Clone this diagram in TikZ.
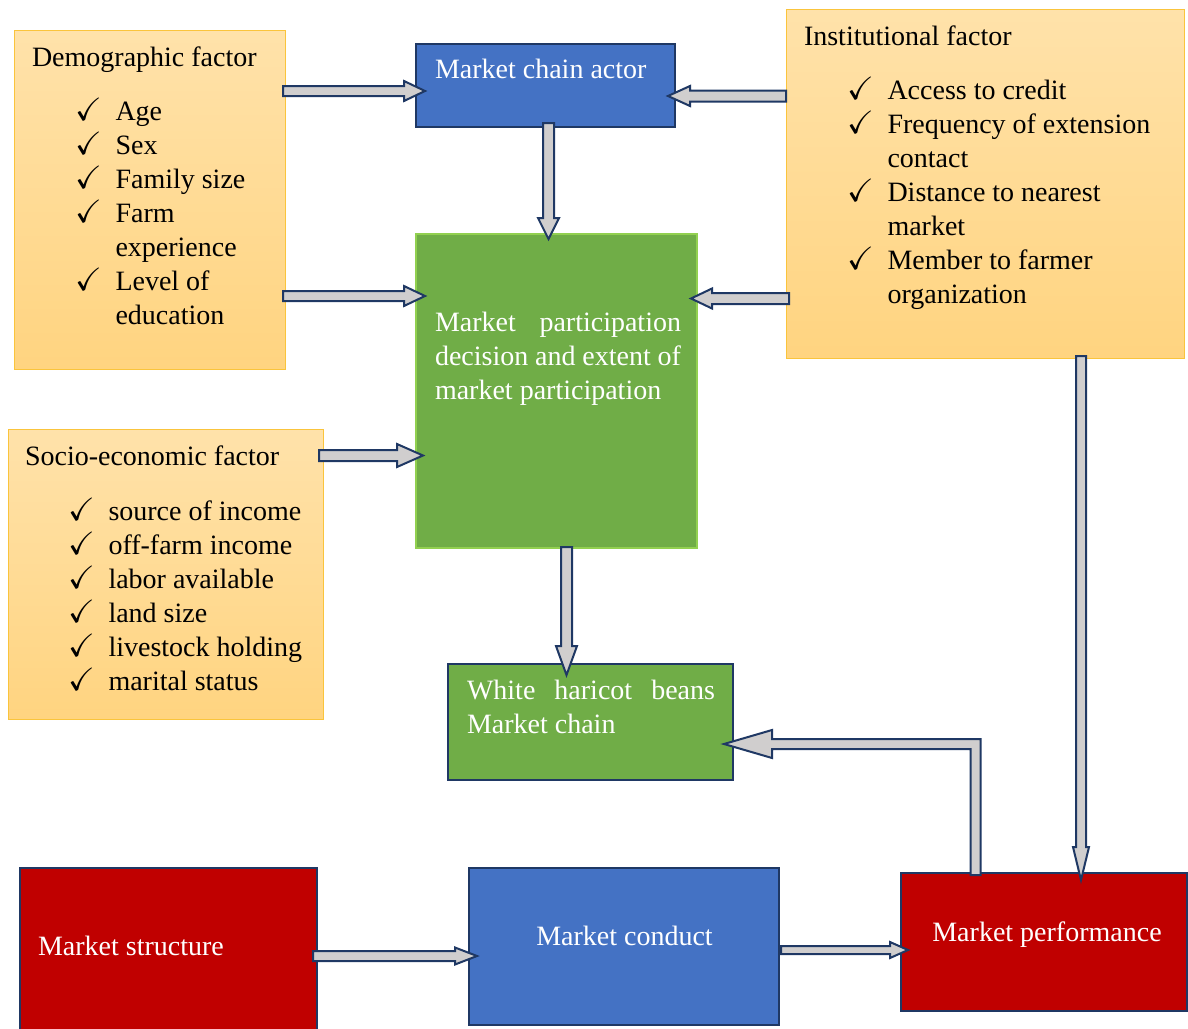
\documentclass[tikz,border=0pt]{standalone}
\usepackage{amssymb}
\usepackage{fontspec}
\setmainfont{Liberation Serif}
\usetikzlibrary{calc}
\definecolor{navy}{HTML}{1F3864}
\definecolor{agray}{HTML}{D0CECE}
\definecolor{mblue}{HTML}{4472C4}
\definecolor{mgreen}{HTML}{70AD47}
\definecolor{lgreen}{HTML}{92D050}
\definecolor{mred}{HTML}{C00000}
\definecolor{otop}{RGB}{255,226,170}
\definecolor{obot}{RGB}{255,212,128}
\definecolor{oline}{RGB}{250,196,60}
\newcommand\barrow[5]{%
  \coordinate (ba) at (#1); \coordinate (bb) at (#2);
  \coordinate (bh) at ($(bb)!#4pt!(ba)$);
  \draw[blockarr] ($(ba)!#3pt!90:(bb)$) -- ($(bh)!#3pt!-90:(ba)$) -- ($(bh)!#5pt!-90:(ba)$) -- (bb) -- ($(bh)!#5pt!90:(ba)$) -- ($(bh)!#3pt!90:(ba)$) -- ($(ba)!#3pt!-90:(bb)$) -- cycle;}
\newcommand\ck{\makebox[40.5pt][l]{\scalebox{1.15}{$\checkmark$}}}
\newcommand\ind{\hspace*{40.5pt}}
\tikzset{
  every node/.style={inner sep=0pt, outer sep=0pt},
  obox/.style={draw=oline, line width=1pt, top color=otop, bottom color=obot, anchor=north west},
  bbox/.style={draw=navy, line width=2pt, fill=mblue, anchor=north west},
  gbox/.style={draw=navy, line width=2pt, fill=mgreen, anchor=north west},
  rbox/.style={draw=navy, line width=2pt, fill=mred, anchor=north west},
  txt/.style={font=\fontsize{28}{34}\selectfont, anchor=base west},
  ltxt/.style={font=\fontsize{28}{34}\selectfont, anchor=north west, align=left},
  wtxt/.style={txt, text=white},
  blockarr/.style={draw=navy, fill=agray, line width=2pt, line join=miter},
}
\begin{document}
\begin{tikzpicture}[x=1pt,y=-1pt]
\useasboundingbox (0,0) rectangle (1188,1028);
% boxes
\node[obox, minimum width=271pt, minimum height=339pt] (dem) at (14,30) {};
\node[obox, minimum width=398pt, minimum height=349pt] (inst) at (786,9) {};
\node[obox, minimum width=315pt, minimum height=290pt] (soc) at (8,429) {};
\node[bbox, minimum width=259pt, minimum height=83pt] (act) at (416,44) {};
\node[gbox, draw=lgreen, minimum width=281pt, minimum height=314pt] (par) at (416,234) {};
\node[gbox, minimum width=285pt, minimum height=116pt] (wh) at (448,664) {};
\node[rbox, minimum width=297pt, minimum height=165pt] (str) at (20,868) {};
\node[bbox, minimum width=310pt, minimum height=157pt] (con) at (469,868) {};
\node[rbox, minimum width=286pt, minimum height=138pt] (perf) at (901,873) {};
% texts
\node[txt] (demt) at (32,66) {Demographic factor};
\node[ltxt] (deml) at (75,96.2) {\strut\ck Age\\\strut\ck Sex\\\strut\ck Family size\\\strut\ck Farm\\\strut\ind experience\\\strut\ck Level of\\\strut\ind education};
\node[txt] (instt) at (804,45) {Institutional factor};
\node[ltxt] (instl) at (847,75.2) {\strut\ck Access to credit\\\strut\ck Frequency of extension\\\strut\ind contact\\\strut\ck Distance to nearest\\\strut\ind market\\\strut\ck Member to farmer\\\strut\ind organization};
\node[txt] (soct) at (25,465) {Socio-economic factor};
\node[ltxt] (socl) at (68,496.2) {\strut\ck source of income\\\strut\ck off-farm income\\\strut\ck labor available\\\strut\ck land size\\\strut\ck livestock holding\\\strut\ck marital status};
\node[wtxt] (actt) at (435,78) {Market chain actor};
\node[ltxt, text=white, text width=246pt, align=justify] (part) at (435,307.2) {\strut Market participation\linebreak decision and extent of\linebreak market participation};
\node[ltxt, text=white, text width=248pt, align=justify] (wht) at (467,675.2) {\strut White haricot beans\linebreak Market chain};
\node[wtxt] (strt) at (38,955) {Market structure};
\node[wtxt, anchor=base] (cont) at (624.5,945) {Market conduct};
\node[wtxt, anchor=base] (perft) at (1047,941) {Market performance};
% arrows
\barrow{$(dem.north east)+(-2,61)$}{$(act.north west)+(9,47)$}{5}{21}{10}
\barrow{$(inst.north west)+(0,87)$}{$(act.north east)+(-7,52)$}{5.5}{22}{10}
\barrow{$(dem.north east)+(-2,266)$}{$(par.north west)+(9,62)$}{5}{21}{10}
\barrow{$(inst.north west)+(3,289.5)$}{$(par.north east)+(-6,64.5)$}{5.5}{21}{10}
\barrow{$(soc.north east)+(-4,26.5)$}{$(par.north west)+(7,221.5)$}{5.5}{26}{11.5}
\barrow{$(act.south west)+(132.5,-4)$}{$(par.north west)+(132.5,5)$}{5.5}{21}{10.5}
\barrow{$(par.south west)+(150.5,-1)$}{$(wh.north west)+(118.5,11)$}{5.5}{29}{10.5}
\barrow{$(inst.south west)+(295,-2)$}{$(perf.north west)+(180,7)$}{5}{33}{8}
\barrow{$(str.north east)+(-4,88)$}{$(con.north west)+(8,88)$}{5}{22}{8.5}
\barrow{$(con.north east)+(2,82)$}{$(perf.north west)+(7,77)$}{4}{18}{8}
\coordinate (e1) at ($(perf.north west)+(74.5,2)$);
\coordinate (e2) at ($(wh.north east)+(-9,80)$);
\draw[blockarr] ($(e1)+(5,0)$) -- ($(e1 |- e2)+(5,-5)$) -- ($(e2)+(48,-5)$) -- ($(e2)+(48,-14)$) -- (e2) -- ($(e2)+(48,14)$) -- ($(e2)+(48,5)$) -- ($(e1 |- e2)+(-5,5)$) -- ($(e1)+(-5,0)$) -- cycle;
\end{tikzpicture}
\end{document}
